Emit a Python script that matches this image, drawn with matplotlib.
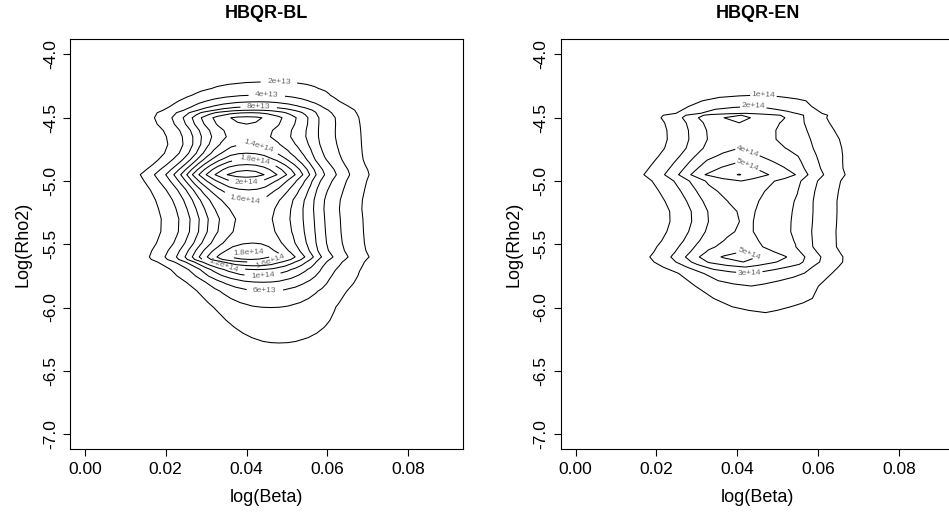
import numpy as np
import matplotlib.pyplot as plt

plt.rcParams['font.family'] = ['Liberation Sans', 'DejaVu Sans']
plt.rcParams['axes.unicode_minus'] = False

# ---- HBQR-BL ----
# cross-section shape along log(Beta): offset from 0.04 -> relative height
bl_u = [-0.040, -0.033, -0.0295, -0.0263, -0.0228, -0.0200, -0.0180, -0.0163,
        -0.0148, -0.0134, -0.0118, -0.0100, -0.0078, -0.0048, -0.0024, 0.0,
        0.0022, 0.0043, 0.0075, 0.0099, 0.0120, 0.0139, 0.0156, 0.0172,
        0.0193, 0.0222, 0.0255, 0.0303, 0.034, 0.038, 0.044]
bl_f = [0.0, 0.02, 0.045, 0.087, 0.174, 0.261, 0.348, 0.435,
        0.522, 0.609, 0.696, 0.783, 0.870, 0.957, 0.99, 1.0,
        0.99, 0.957, 0.870, 0.783, 0.696, 0.609, 0.522, 0.435,
        0.348, 0.261, 0.174, 0.087, 0.04, 0.015, 0.0]
# per log(Rho2) row: peak height (1e13), centre, left / right spread
bl_rho = [-3.80, -4.00, -4.15, -4.216, -4.27, -4.321, -4.374, -4.413, -4.44, -4.46, -4.50,
          -4.55, -4.60, -4.65, -4.71, -4.78, -4.83, -4.87, -4.91, -4.95,
          -5.00, -5.07, -5.15, -5.22, -5.30, -5.40, -5.49, -5.55, -5.60,
          -5.62, -5.64, -5.67, -5.70, -5.75, -5.80, -5.87, -6.00, -6.14, -6.28,
          -6.45, -6.70]
bl_peak = [0.05, 0.6, 1.4, 2.0, 2.8, 4.0, 6.0, 8.0, 10.0, 12.0, 14.5,
           14.0, 13.2, 13.0, 14.0, 16.0, 18.0, 20.0, 21.8, 23.0,
           20.5, 18.0, 16.0, 15.2, 14.7, 15.0, 16.0, 17.5, 19.0,
           18.0, 16.0, 14.0, 12.0, 10.0, 8.0, 6.0, 4.0, 3.0, 2.0,
           1.0, 0.2]
bl_center = [0.048, 0.048, 0.048, 0.047, 0.0455, 0.044, 0.043, 0.0425, 0.042, 0.041, 0.040,
             0.040, 0.040, 0.040, 0.040, 0.040, 0.040, 0.040, 0.040, 0.040,
             0.040, 0.0405, 0.041, 0.0415, 0.042, 0.042, 0.0415, 0.041, 0.041,
             0.041, 0.0415, 0.042, 0.0425, 0.043, 0.044, 0.045, 0.046, 0.047, 0.048,
             0.049, 0.049]
bl_left = [1.8, 1.8, 1.7, 1.5, 1.25, 1.15, 1.1, 1.06, 1.03, 1.0, 0.94,
           0.92, 0.87, 0.84, 0.81, 0.82, 0.86, 0.90, 0.95, 1.0,
           0.98, 0.96, 0.95, 0.95, 0.95, 0.95, 0.96, 0.97, 0.98,
           0.97, 0.95, 0.93, 0.92, 0.92, 0.93, 0.94, 0.93, 0.86, 0.80,
           0.80, 0.80]
bl_right = [1.3, 1.3, 1.25, 1.15, 1.07, 1.04, 1.02, 1.01, 1.01, 1.01, 1.01,
            1.03, 1.055, 1.064, 1.044, 1.014, 0.995, 0.99, 0.997, 1.0,
            1.0, 0.99, 0.98, 0.97, 0.97, 0.97, 0.98, 0.99, 1.0,
            0.99, 0.98, 0.98, 0.99, 1.0, 1.0, 1.0, 1.0, 1.0, 1.0,
            1.0, 1.0]
bl_levels = [2e13, 4e13, 6e13, 8e13, 1e14, 1.2e14, 1.4e14, 1.6e14, 1.8e14, 2e14, 2.2e14]

# ---- HBQR-EN ----
en_u = [-0.040, -0.033, -0.0285, -0.0236, -0.0185, -0.0150, -0.0120, -0.0085,
        -0.0045, 0.0, 0.0033, 0.0073, 0.0110, 0.0139, 0.0170,
        0.0209, 0.0262, 0.031, 0.036, 0.042]
en_f = [0.0, 0.02, 0.06, 0.165, 0.33, 0.496, 0.661, 0.826,
        0.925, 1.0, 0.925, 0.826, 0.74, 0.661, 0.496,
        0.33, 0.165, 0.07, 0.02, 0.0]
en_rho = [-3.85, -4.05, -4.20, -4.32, -4.41, -4.465, -4.48, -4.50,
          -4.54, -4.60, -4.67, -4.74, -4.80, -4.85, -4.90, -4.95,
          -5.00, -5.08, -5.16, -5.24, -5.32, -5.40, -5.47, -5.52, -5.56, -5.60,
          -5.64, -5.68, -5.73, -5.83, -5.93, -6.04, -6.20, -6.50]
en_peak = [0.05, 0.35, 0.7, 1.0, 2.0, 3.0, 4.0, 4.3,
           4.0, 3.8, 3.75, 4.0, 4.5, 5.0, 5.5, 6.05,
           5.0, 4.6, 4.35, 4.2, 4.15, 4.2, 4.4, 4.6, 5.0, 5.5,
           5.0, 4.0, 3.0, 2.0, 1.5, 1.0, 0.5, 0.1]
en_center = [0.046, 0.046, 0.046, 0.046, 0.044, 0.042, 0.041, 0.0405,
             0.0405, 0.0405, 0.0405, 0.0405, 0.0405, 0.0405, 0.0405, 0.0405,
             0.041, 0.0415, 0.042, 0.0425, 0.0425, 0.042, 0.0415, 0.041, 0.041, 0.041,
             0.0415, 0.042, 0.043, 0.0435, 0.045, 0.047, 0.048, 0.048]
en_left = [1.3, 1.3, 1.25, 1.2, 1.07, 0.93, 0.92, 0.90,
           0.88, 0.87, 0.87, 0.88, 0.91, 0.94, 0.97, 1.0,
           0.98, 0.95, 0.92, 0.90, 0.90, 0.91, 0.93, 0.95, 0.96, 0.98,
           0.98, 0.97, 0.95, 0.93, 0.90, 0.85, 0.80, 0.80]
en_right = [0.95, 0.95, 0.92, 0.88, 0.85, 0.91, 0.91, 0.90,
            0.95, 1.02, 1.08, 1.08, 1.05, 1.02, 1.0, 1.0,
            0.98, 0.96, 0.94, 0.93, 0.93, 0.94, 0.95, 0.96, 0.97, 0.98,
            0.98, 0.98, 0.98, 0.98, 0.98, 0.96, 0.95, 0.95]
en_levels = [1e14, 2e14, 3e14, 4e14, 5e14, 6e14]

x_ticks = [0.00, 0.02, 0.04, 0.06, 0.08]
y_ticks = [-4.0, -4.5, -5.0, -5.5, -6.0, -6.5, -7.0]


def surface(u, f, rho, peak, center, left, right, unit):
    u = np.asarray(u)
    spread = np.where(u[None, :] < 0, np.asarray(left)[:, None], np.asarray(right)[:, None])
    X = np.asarray(center)[:, None] + spread * u[None, :]
    Y = np.repeat(np.asarray(rho)[:, None], len(u), axis=1)
    Z = np.outer(np.asarray(peak) * unit, f)
    return X, Y, Z


def draw(ax, title, X, Y, Z, levels, label_pos):
    cs = ax.contour(X, Y, Z, levels=levels, colors='black', linewidths=0.75)
    ax.clabel(cs, fmt=lambda v: f'{v:g}', fontsize=6, colors='#666666',
              inline=True, inline_spacing=2, manual=label_pos)
    ax.set_xlim(-0.0036, 0.0936)
    ax.set_ylim(-7.12, -3.88)
    ax.set_xticks(x_ticks)
    ax.set_xticklabels([f'{t:.2f}' for t in x_ticks])
    ax.set_yticks(y_ticks)
    ax.set_yticklabels([f'{t:.1f}' for t in y_ticks], rotation=90, va='center')
    ax.tick_params(direction='out', length=5, width=0.8, labelsize=12.5, pad=4)
    ax.set_xlabel('log(Beta)', fontsize=13, labelpad=9)
    ax.set_ylabel('Log(Rho2)', fontsize=13, labelpad=8)
    ax.set_title(title, fontsize=13, fontweight='bold', pad=15)
    for s in ax.spines.values():
        s.set_linewidth(0.8)


fig = plt.figure(figsize=(9.49, 5.15), dpi=100)
ax1 = fig.add_axes([0.0741, 0.1276, 0.4141, 0.7961])
ax2 = fig.add_axes([0.5911, 0.1276, 0.4141, 0.7961])

Xb, Yb, Zb = surface(bl_u, bl_f, bl_rho, bl_peak, bl_center, bl_left, bl_right, 1e13)
draw(ax1, 'HBQR-BL', Xb, Yb, Zb, bl_levels,
     [(0.048, -4.216), (0.045, -4.32), (0.043, -4.41), (0.043, -4.72),
      (0.042, -4.84), (0.040, -5.015), (0.0395, -5.15), (0.0405, -5.59),
      (0.046, -5.645), (0.034, -5.675), (0.044, -5.75), (0.0445, -5.87)])

Xe, Ye, Ze = surface(en_u, en_f, en_rho, en_peak, en_center, en_left, en_right, 1e14)
draw(ax2, 'HBQR-EN', Xe, Ye, Ze, en_levels,
     [(0.0465, -4.32), (0.044, -4.41), (0.043, -4.735), (0.043, -4.85),
      (0.043, -5.57), (0.043, -5.73)])

fig.savefig('out.png', dpi=100)
